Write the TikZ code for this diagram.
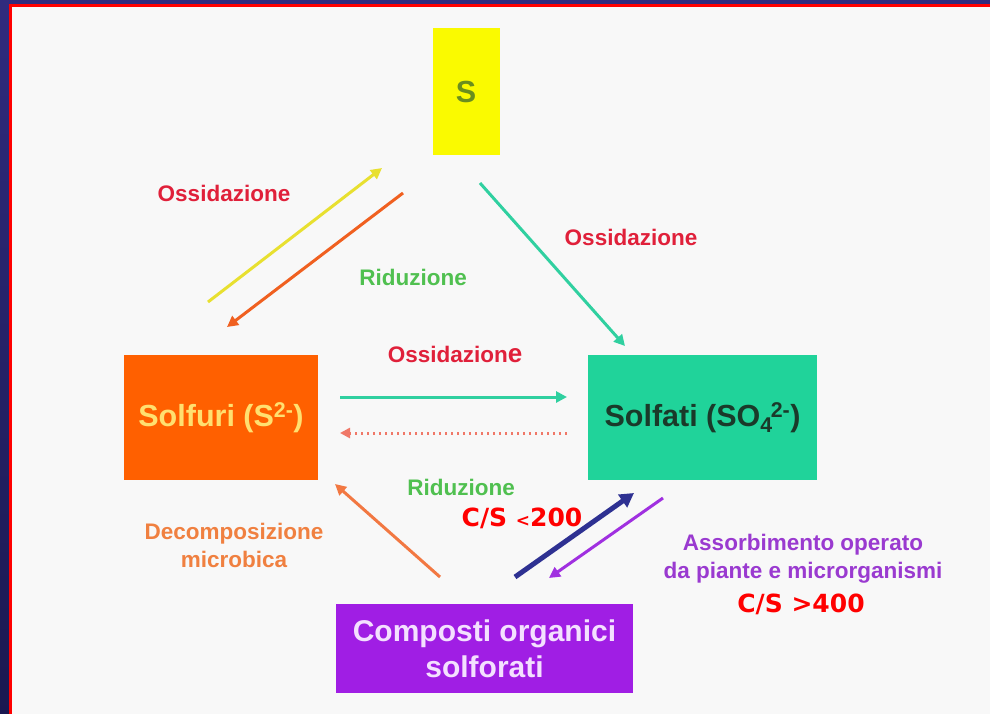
\documentclass[tikz,border=0pt]{standalone}
\usepackage{fontspec}
\setmainfont{Liberation Sans}
\newfontfamily\csfont{DejaVu Sans}
\usetikzlibrary{arrows.meta}

\definecolor{frameblue}{HTML}{302B7E}
\definecolor{frameblueB}{HTML}{1A1850}
\definecolor{panel}{HTML}{F8F8F8}
\definecolor{sbox}{HTML}{FAFA00}
\definecolor{stext}{HTML}{6A8E1E}
\definecolor{orbox}{HTML}{FF6000}
\definecolor{ortext}{HTML}{FFE070}
\definecolor{tealbox}{HTML}{20D39A}
\definecolor{tealtext}{HTML}{1A3A2A}
\definecolor{purbox}{HTML}{A01EE4}
\definecolor{purtext}{HTML}{F4E0FF}
\definecolor{oxred}{HTML}{E0203A}
\definecolor{redgreen}{HTML}{50C050}
\definecolor{decor}{HTML}{F08040}
\definecolor{absorb}{HTML}{9A3AD0}
\definecolor{csred}{HTML}{FF0000}
\definecolor{yelarrow}{HTML}{E8E030}
\definecolor{orarrow}{HTML}{F06020}
\definecolor{tealarrow}{HTML}{30D0A0}
\definecolor{dotarrow}{HTML}{F07868}
\definecolor{navyarrow}{HTML}{2E3192}
\definecolor{purarrow}{HTML}{A030E0}

\tikzset{
  box/.style={draw=none, inner sep=0pt, align=center,
    font=\fontsize{30.5}{36}\selectfont\bfseries},
  lbl/.style={inner sep=0pt, align=center,
    font=\fontsize{22.5}{28}\selectfont\bfseries},
  cs/.style={inner sep=0pt, text=csred,
    font=\csfont\fontsize{25}{28}\selectfont\bfseries},
  arr/.style={line width=3pt, -{Triangle[length=11pt,width=11pt]}},
}

\begin{document}
\begin{tikzpicture}[x=1pt,y=-1pt]
  \useasboundingbox (0,0) rectangle (990,713);
  % frame and panel (overshooting right and bottom, cut by the page)
  \shade[top color=frameblue, bottom color=frameblueB] (0,0) rectangle (1000,723);
  \fill[csred] (9,4) rectangle (1000,723);
  \fill[panel] (12,7) rectangle (1000,723);

  % compartments
  \node[box, fill=sbox, text=stext, minimum width=67pt, minimum height=127pt]
    (S) at (466,91.5) {S};
  \node[box, fill=orbox, text=ortext, minimum width=194pt, minimum height=125pt]
    (solfuri) at (221,417.5) {Solfuri (S\textsuperscript{2-})};
  \node[box, fill=tealbox, text=tealtext, minimum width=229pt, minimum height=125pt]
    (solfati) at (702.5,417.5)
    {Solfati (SO\textsubscript{4}\kern-2pt\textsuperscript{2-})};
  \node[box, fill=purbox, text=purtext, minimum width=297pt, minimum height=89pt,
    font=\fontsize{30}{36}\selectfont\bfseries]
    (composti) at (484.5,648.5) {Composti organici\\solforati};

  % arrow end points
  \coordinate (yA) at (208,302);  \coordinate (yB) at (382,168);
  \coordinate (oA) at (403,193);  \coordinate (oB) at (227,327);
  \coordinate (tA) at (480,183);  \coordinate (tB) at (625,346);
  \coordinate (hA) at (340,397);  \coordinate (hB) at (567,397);
  \coordinate (dA) at (567,433);  \coordinate (dB) at (340,433);
  \coordinate (cA) at (440,577);  \coordinate (cB) at (335,484);
  \coordinate (nA) at (515,577);  \coordinate (nB) at (634,493);
  \coordinate (pA) at (663,498);  \coordinate (pB) at (549,578);

  % transformations
  \draw[arr, yelarrow] (yA) -- (yB);
  \draw[arr, orarrow] (oA) -- (oB);
  \draw[arr, tealarrow] (tA) -- (tB);
  \draw[arr, tealarrow] (hA) -- (hB);
  \draw[dotarrow, line width=3pt, dash pattern=on 2.5pt off 3.5pt,
    -{Triangle[length=10pt,width=10pt]}] (dA) -- (dB);
  \draw[arr, orarrow!85!white] (cA) -- (cB);
  \draw[navyarrow, line width=5pt, -{Triangle[length=14pt,width=15pt]}] (nA) -- (nB);
  \draw[arr, purarrow] (pA) -- (pB);

  % labels
  \node[lbl, text=oxred] (ox1) at (224,193) {Ossidazione};
  \node[lbl, text=redgreen] (rid1) at (413,277) {Riduzione};
  \node[lbl, text=oxred] (ox2) at (631,237) {Ossidazione};
  \node[lbl, text=oxred] (ox3) at (455,354) {Ossidazion{\fontsize{26}{28}\selectfont e}};
  \node[lbl, text=redgreen] (rid2) at (461,487) {Riduzione};
  \node[lbl, text=decor] (decomp) at (234,545) {Decomposizione\\microbica};
  \node[lbl, text=absorb] (assorb) at (803,559) {Assorbimento operato\\da piante e microrganismi};
  \node[cs] (cs1) at (522,518) {C/S {\fontsize{17}{20}\selectfont<}200};
  \node[cs] (cs2) at (801,604) {C/S >400};
\end{tikzpicture}
\end{document}
